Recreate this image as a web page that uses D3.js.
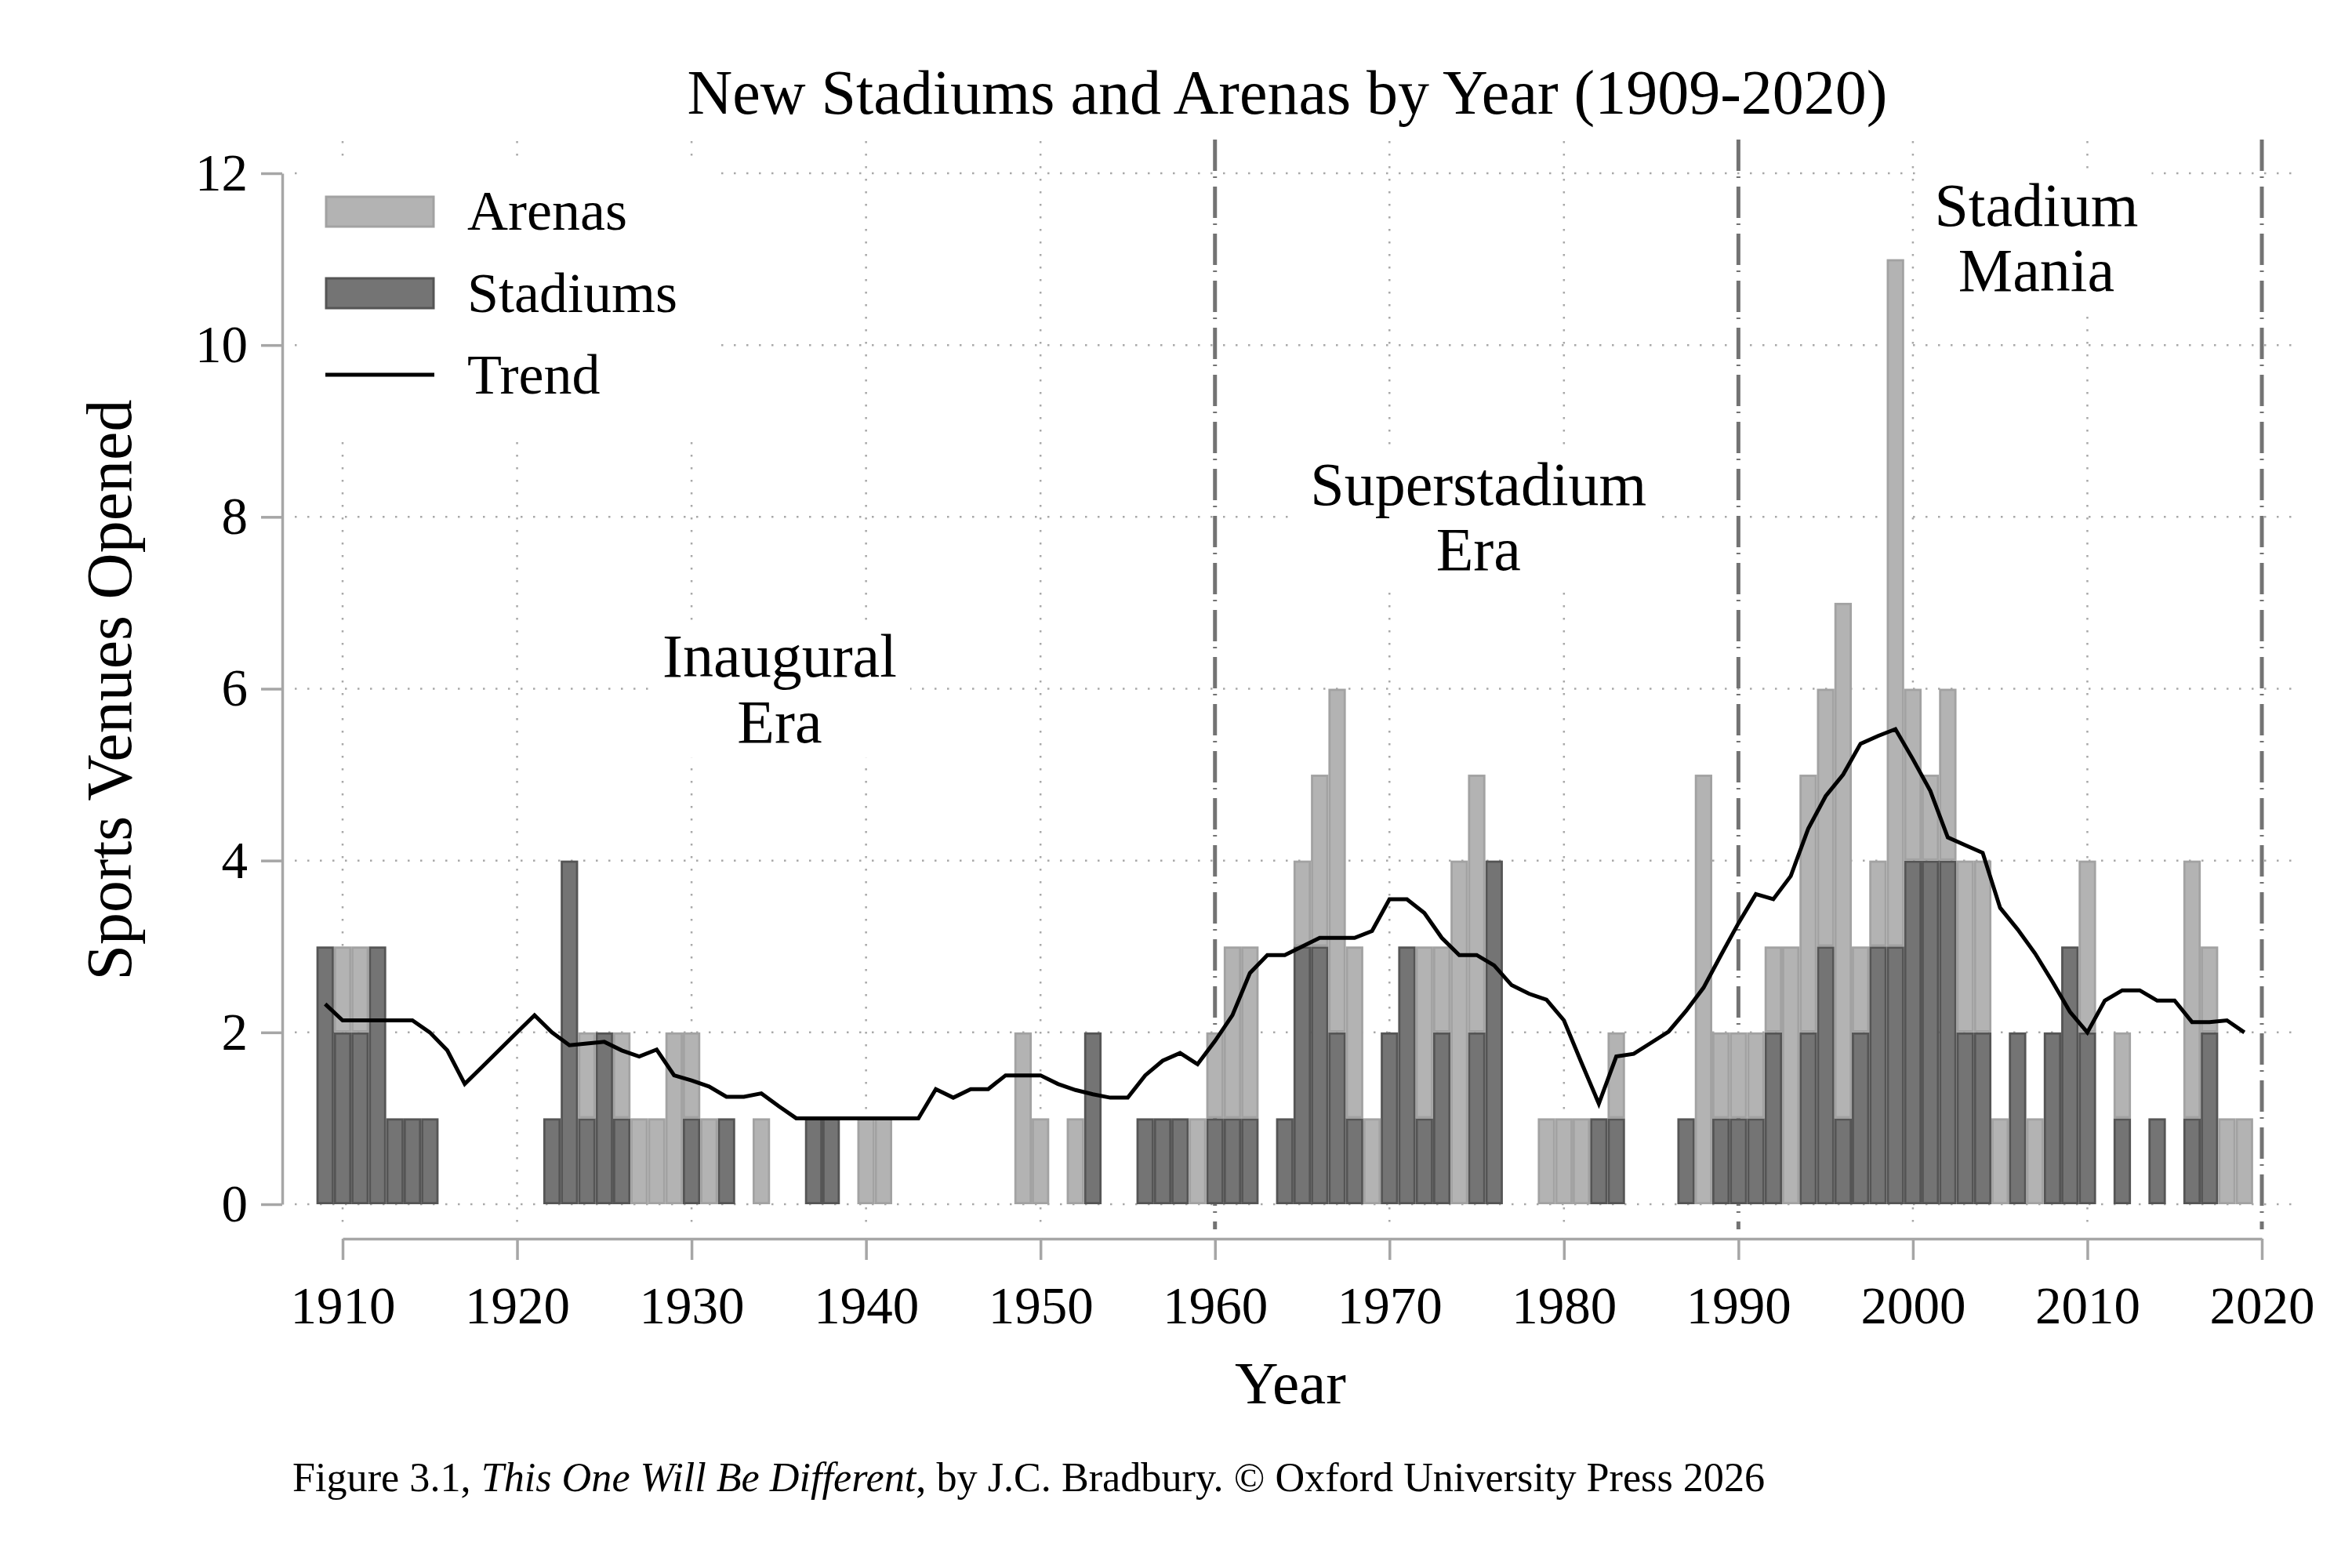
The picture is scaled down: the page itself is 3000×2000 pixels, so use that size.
<!DOCTYPE html>
<html><head><meta charset="utf-8">
<script src="https://cdn.jsdelivr.net/npm/d3@7"></script>
<style>
html,body{margin:0;padding:0;background:#fff;}
svg{display:block;}
text{font-family:'Liberation Serif','Times New Roman',serif;fill:#000;}
</style>
</head><body>
<svg id="chart" width="3000" height="2000"></svg>
<script>
// ---------------- DATA ----------------
const years = [
 1909,1910,1911,1912,1913,1914,1915,1916,1917,1918,
 1919,1920,1921,1922,1923,1924,1925,1926,1927,1928,
 1929,1930,1931,1932,1933,1934,1935,1936,1937,1938,
 1939,1940,1941,1942,1943,1944,1945,1946,1947,1948,
 1949,1950,1951,1952,1953,1954,1955,1956,1957,1958,
 1959,1960,1961,1962,1963,1964,1965,1966,1967,1968,
 1969,1970,1971,1972,1973,1974,1975,1976,1977,1978,
 1979,1980,1981,1982,1983,1984,1985,1986,1987,1988,
 1989,1990,1991,1992,1993,1994,1995,1996,1997,1998,
 1999,2000,2001,2002,2003,2004,2005,2006,2007,2008,
 2009,2010,2011,2012,2013,2014,2015,2016,2017,2018,
 2019];
const stadiums = [
 3,2,2,3,1,1,1,0,0,0,
 0,0,0,1,4,1,2,1,0,0,
 0,1,0,1,0,0,0,0,1,1,
 0,0,0,0,0,0,0,0,0,0,
 0,0,0,0,2,0,0,1,1,1,
 0,1,1,1,0,1,3,3,2,1,
 0,2,3,1,2,0,2,4,0,0,
 0,0,0,1,1,0,0,0,1,0,
 1,1,1,2,0,2,3,1,2,3,
 3,4,4,4,2,2,0,2,0,2,
 3,2,0,1,0,1,0,1,2,0,
 0];
const arenas = [
 0,1,1,0,0,0,0,0,0,0,
 0,0,0,0,0,1,0,1,1,1,
 2,1,1,0,0,1,0,0,0,0,
 0,1,1,0,0,0,0,0,0,0,
 2,1,0,1,0,0,0,0,0,0,
 1,1,2,2,0,0,1,2,4,2,
 1,0,0,2,1,4,3,0,0,0,
 1,1,1,0,1,0,0,0,0,5,
 1,1,1,1,3,3,3,6,1,1,
 8,2,1,2,2,2,1,0,1,0,
 0,2,0,1,0,0,0,3,1,1,
 1];
const trend = [
 2.33,2.14,2.14,2.14,2.14,2.14,2.00,1.79,1.40,1.60,
 1.80,2.00,2.20,2.00,1.85,1.87,1.89,1.79,1.72,1.80,
 1.50,1.44,1.37,1.25,1.25,1.29,1.14,1.00,1.00,1.00,
 1.00,1.00,1.00,1.00,1.00,1.34,1.24,1.34,1.34,1.50,
 1.50,1.50,1.40,1.33,1.28,1.24,1.24,1.50,1.67,1.76,
 1.63,1.90,2.20,2.69,2.90,2.90,3.00,3.10,3.10,3.10,
 3.18,3.55,3.55,3.39,3.10,2.90,2.90,2.78,2.55,2.45,
 2.38,2.14,1.65,1.17,1.72,1.75,1.88,2.01,2.25,2.52,
 2.90,3.27,3.61,3.55,3.82,4.37,4.75,5.00,5.36,5.45,
 5.53,5.18,4.81,4.27,4.18,4.09,3.45,3.20,2.92,2.59,
 2.24,2.00,2.37,2.49,2.49,2.37,2.37,2.12,2.12,2.14,
 2.00];
const yTicks = [0,2,4,6,8,10,12];
const xTicks = [1910,1920,1930,1940,1950,1960,1970,1980,1990,2000,2010,2020];
const eraBoundaries = [1960,1990,2020];
const eraNames = [["Inaugural","Era"],["Superstadium","Era"],["Stadium","Mania"]];
const eraAnchorYear = [1935.05,1975.1,2007.08];
const eraAnchorValue = [6.14,8.14,11.39];
const legendNames = ["Arenas","Stadiums","Trend"];
const titleText = "New Stadiums and Arenas by Year (1909-2020)";
const xTitle = "Year";
const yTitle = "Sports Venues Opened";

// ---------------- LAYOUT ----------------
const svg = d3.select("#chart");
svg.append("rect").attr("width",3000).attr("height",2000).attr("fill","#fff");

const x = d3.scaleLinear().domain([1910,2020]).range([437,2885]);
const y = d3.scaleLinear().domain([0,12]).range([1536,221]);
const plotLeft = 376, plotRight = 2925, plotTop = 180, plotBottom = 1568;

const C = {
  darkFill:"#747474", darkStroke:"#555555",
  lightFill:"#b3b3b3", lightStroke:"#a2a2a2",
  grid:"#a8a8a8", axis:"#a6a6a6", era:"#737373"
};

// gridlines
const grid = svg.append("g");
grid.selectAll("line.h").data(yTicks).join("line")
  .attr("x1",plotLeft).attr("x2",plotRight)
  .attr("y1",d=>y(d)).attr("y2",d=>y(d))
  .attr("stroke",C.grid).attr("stroke-width",2.5).attr("stroke-dasharray","2.5,13.5");
grid.selectAll("line.v").data(xTicks.filter(t=>!eraBoundaries.includes(t))).join("line")
  .attr("x1",d=>x(d)).attr("x2",d=>x(d))
  .attr("y1",plotTop).attr("y2",plotBottom)
  .attr("stroke",C.grid).attr("stroke-width",2.5).attr("stroke-dasharray","2.5,13.5");

// era lines
svg.append("g").selectAll("line").data(eraBoundaries).join("line")
  .attr("x1",d=>x(d)).attr("x2",d=>x(d))
  .attr("y1",178).attr("y2",plotBottom)
  .attr("stroke",C.era).attr("stroke-width",5).attr("stroke-dasharray","40,7,2,11");

// bars
const band = x(1911)-x(1910);
const sw = 2.8;
const rows = years.map((yr,i)=>({yr, s:stadiums[i], a:arenas[i], t:trend[i]}));
const bars = svg.append("g");
bars.selectAll("rect.s").data(rows.filter(d=>d.s>0)).join("rect")
  .attr("x",d=>x(d.yr)-band/2+sw/2).attr("width",band-sw)
  .attr("y",d=>y(d.s)+sw/2).attr("height",d=>y(0)-y(d.s)-sw)
  .attr("fill",C.darkFill).attr("stroke",C.darkStroke).attr("stroke-width",sw);
bars.selectAll("rect.a").data(rows.filter(d=>d.a>0)).join("rect")
  .attr("x",d=>x(d.yr)-band/2+sw/2).attr("width",band-sw)
  .attr("y",d=>y(d.s+d.a)+sw/2).attr("height",d=>y(d.s)-y(d.s+d.a)-sw)
  .attr("fill",C.lightFill).attr("stroke",C.lightStroke).attr("stroke-width",sw);

// trend
svg.append("path").datum(rows)
  .attr("d",d3.line().x(d=>x(d.yr)).y(d=>y(d.t)))
  .attr("fill","none").attr("stroke","#000").attr("stroke-width",5);

// axes
const yAxis = svg.append("g").attr("transform","translate(360,0)")
  .call(d3.axisLeft(y).tickValues(yTicks).tickSize(27).tickSizeOuter(0).tickPadding(17));
const xAxis = svg.append("g").attr("transform","translate(0,1580)")
  .call(d3.axisBottom(x).tickValues(xTicks).tickFormat(d3.format("d")).tickSize(27).tickSizeOuter(0).tickPadding(33));
[yAxis,xAxis].forEach(g=>{
  g.select(".domain").attr("stroke",C.axis).attr("stroke-width",3.5);
  g.selectAll(".tick line").attr("stroke",C.axis).attr("stroke-width",3.5);
  g.selectAll(".tick text").attr("font-family","'Liberation Serif',serif").attr("font-size",67).attr("fill","#000");
});

// titles
svg.append("text").attr("x",1642).attr("y",145).attr("text-anchor","middle")
  .attr("font-size",80).text(titleText);
svg.append("text").attr("x",1646).attr("y",1790).attr("text-anchor","middle")
  .attr("font-size",77).text(xTitle);
svg.append("text").attr("transform","translate(167,880) rotate(-90)").attr("text-anchor","middle")
  .attr("font-size",82).text(yTitle);

// legend
const lg = svg.append("g");
lg.append("rect").attr("x",383).attr("y",201).attr("width",535).attr("height",352).attr("fill","#fff");
lg.append("rect").attr("x",416).attr("y",251).attr("width",137).attr("height",38)
  .attr("fill",C.lightFill).attr("stroke",C.lightStroke).attr("stroke-width",3);
lg.append("rect").attr("x",416).attr("y",355).attr("width",137).attr("height",38)
  .attr("fill",C.darkFill).attr("stroke",C.darkStroke).attr("stroke-width",3);
lg.append("line").attr("x1",415).attr("x2",554).attr("y1",478).attr("y2",478)
  .attr("stroke","#000").attr("stroke-width",5);
lg.selectAll("text").data(legendNames).join("text")
  .attr("x",596).attr("y",(d,i)=>293+i*104.5).attr("font-size",72).text(d=>d);

// era labels
eraNames.forEach((lines,i)=>{
  const g = svg.append("g");
  const cx = x(eraAnchorYear[i]), by = y(eraAnchorValue[i]);
  const bg = g.append("rect").attr("fill","#fff");
  const t = g.append("text").attr("text-anchor","middle").attr("font-size",78);
  lines.forEach((ln,j)=>t.append("tspan").attr("x",cx).attr("y",by+j*83.5).text(ln));
  const bb = t.node().getBBox();
  bg.attr("x",bb.x-17).attr("y",bb.y-1).attr("width",bb.width+34).attr("height",bb.height+4);
});

// footer
const ft = svg.append("text").attr("x",373).attr("y",1902).attr("font-size",52.2);
ft.append("tspan").text("Figure 3.1, ");
ft.append("tspan").attr("font-style","italic").text("This One Will Be Different");
ft.append("tspan").text(", by J.C. Bradbury. \u00A9 Oxford University Press 2026");
</script>
</body></html>
